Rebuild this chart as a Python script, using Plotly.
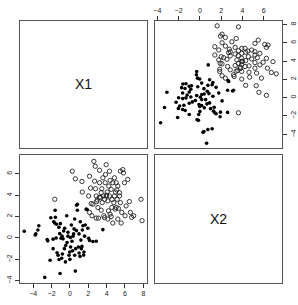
import plotly.graph_objects as go

# Group 1 (filled points)
x1_filled = [-4.98, -3.71, -3.49, -3.39, -3.78, -2.74, -2.48, -2.41, -2.16, -2.08, -1.83, -1.83,
             -1.76, -1.61, -1.58, -1.65, -1.47, -1.40, -1.29, -1.18, -1.11, -1.07, -1.04, -0.96,
             -0.86, -0.82, -0.75, -0.68, -0.57, -0.49, -0.46, -0.35, -0.31, -0.21, -0.21, -0.10,
             -0.02, 0.05, 0.08, 0.16, 0.23, 0.34, 0.45, 0.52, 0.52, 0.59, 0.63, 0.70, 0.73, 0.81,
             0.81, 0.92, 0.99, 1.10, 1.13, 1.24, 1.31, 1.35, 1.42, 1.53, 1.60, 1.67, 1.78, 1.89,
             1.96, 2.04, 2.14, 2.51, 2.87, 3.59,
             -1.20, -0.60, 0.30, 1.00, -0.90, 0.40, 1.20, -1.50, 0.00, 1.50]
x2_filled = [0.63, 0.38, 0.75, 1.15, 0.29, -3.69, -0.14, -0.27, -2.09, 1.90, -0.11, -1.00,
             1.52, 2.60, 1.93, 1.40, 1.28, -1.38, -1.62, -2.02, 0.41, -3.32, 1.34, -0.02,
             0.17, -1.50, -0.08, 0.66, 0.91, -2.24, -0.70, 2.08, -0.42, 0.54, 0.17, -1.62,
             -1.31, 0.04, -0.85, 1.22, -0.30, 0.17, 0.85, 1.77, -1.62, -3.10, -1.00, 0.69, 3.07, 3.16,
             2.60, -0.85, 0.38, -1.72, 1.52, -1.00, -0.79, 0.75, 1.15, -1.31, 0.17, 1.22, 2.70, 2.64,
             0.91, -0.02, -0.23, -0.33, -0.30, 0.78,
             1.00, -1.00, -1.20, -1.40, -1.90, 0.40, -0.20, 0.00, -2.00, -1.60]

# Group 2 (open circles)
x1_open = [-1.65, 0.26, 0.59, 1.31, 1.35, 2.14, 2.25, 2.04, 2.14, 2.32, 2.40, 2.51, 2.61, 2.69,
           2.76, 2.79, 2.87, 2.87, 2.98, 3.05, 3.12, 3.23, 3.23, 3.34, 3.41, 3.48, 3.52, 3.59,
           3.66, 3.70, 3.77, 3.84, 3.88, 3.95, 3.95, 4.06, 4.13, 4.13, 4.20, 4.24, 4.31, 4.31,
           4.38, 4.38, 4.49, 4.57, 4.67, 4.67, 4.78, 4.85, 4.85, 4.93, 4.96, 5.04, 5.14, 5.22,
           5.22, 5.29, 5.40, 5.50, 5.50, 5.58, 5.65, 5.76, 5.83, 5.94, 6.01, 6.12, 6.30, 6.48,
           6.59, 6.73, 6.95, 7.75, 7.86,
           5.40, 5.04, 3.41, 3.77, 4.49, 3.20, 4.00, 2.90, 4.60, 5.10]
x2_open = [3.62, 6.25, 5.54, 5.29, 4.30, 5.78, 4.67, 3.93, 2.39, 3.22, 2.08, 3.16, 7.17, 5.32,
           6.71, 4.61, 3.93, 1.86, 3.56, 2.85, 1.86, 6.34, 5.17, 3.78, 4.24, 4.61, 3.31, 5.63,
           3.93, 2.08, 3.62, 5.17, 5.94, 3.93, 6.86, 4.30, 3.47, 1.77, 2.54, 4.86, 6.25, 3.93,
           5.39, 2.23, 4.55, 2.85, 5.17, 1.40, 3.31, 3.93, 5.63, 2.70, 4.30, 5.17, 3.62, 4.86,
           1.77, 2.76, 4.24, 6.25, 3.31, 1.40, 2.39, 6.40, 6.09, 5.17, 2.08, 3.00, 5.48, 3.41,
           2.39, 1.93, 2.08, 3.62, 1.62,
           3.93, 2.85, 2.60, 1.90, 2.00, 3.80, 4.00, 3.40, 3.60, 4.50]

var_names = ["X1", "X2"]
x1_ticks = [-4, -2, 0, 2, 4, 6, 8]
x2_ticks = [-4, -2, 0, 2, 4, 6]

x1_range = [-5.45, 8.4]
x2_range = [-4.22, 7.72]

W, H = 298, 305
col_dom = [[18 / W, 146 / W], [154 / W, 282 / W]]
row_dom = [[1 - 148 / H, 1 - 21 / H], [1 - 284 / H, 1 - 156 / H]]

fig = go.Figure()

filled_m = dict(symbol="circle", size=3.6, color="black")
open_m = dict(symbol="circle-open", size=4.3, color="#222222", line=dict(width=0.9, color="#222222"))

# bottom-left: x = X1, y = X2 (axes x3/y3)
fig.add_trace(go.Scatter(x=x1_filled, y=x2_filled, mode="markers", marker=filled_m,
                         xaxis="x3", yaxis="y3", showlegend=False, hoverinfo="skip"))
fig.add_trace(go.Scatter(x=x1_open, y=x2_open, mode="markers", marker=open_m,
                         xaxis="x3", yaxis="y3", showlegend=False, hoverinfo="skip"))
# top-right: x = X2, y = X1 (axes x2/y2)
fig.add_trace(go.Scatter(x=x2_filled, y=x1_filled, mode="markers", marker=filled_m,
                         xaxis="x2", yaxis="y2", showlegend=False, hoverinfo="skip"))
fig.add_trace(go.Scatter(x=x2_open, y=x1_open, mode="markers", marker=open_m,
                         xaxis="x2", yaxis="y2", showlegend=False, hoverinfo="skip"))

frame = dict(showline=True, linecolor="#555555", linewidth=1, mirror=True,
             showgrid=False, zeroline=False)
tickstyle = dict(ticks="outside", ticklen=4, tickcolor="#333333", tickwidth=1,
                 tickfont=dict(family="Liberation Sans, Arial, sans-serif", size=7, color="#222222"))
empty = dict(showticklabels=False, ticks="", range=[0, 1])

fig.update_layout(
    width=W, height=H, margin=dict(l=0, r=0, t=0, b=0),
    paper_bgcolor="white", plot_bgcolor="white",
    # top-left diagonal (X1)
    xaxis=dict(domain=col_dom[0], anchor="y", **frame, **empty),
    yaxis=dict(domain=row_dom[0], anchor="x", **frame, **empty),
    # top-right scatter
    xaxis2=dict(domain=col_dom[1], anchor="y2", side="top", range=x2_range,
                tickvals=x2_ticks, **frame, **tickstyle),
    yaxis2=dict(domain=row_dom[0], anchor="x2", side="right", range=x1_range,
                tickvals=x1_ticks, tickangle=-90, **frame, **tickstyle),
    # bottom-left scatter
    xaxis3=dict(domain=col_dom[0], anchor="y3", range=x1_range,
                tickvals=x1_ticks, **frame, **tickstyle),
    yaxis3=dict(domain=row_dom[1], anchor="x3", range=x2_range,
                tickvals=x2_ticks, tickangle=-90, **frame, **tickstyle),
    # bottom-right diagonal (X2)
    xaxis4=dict(domain=col_dom[1], anchor="y4", **frame, **empty),
    yaxis4=dict(domain=row_dom[1], anchor="x4", **frame, **empty),
)

fig.add_annotation(x=0.5, y=0.5, xref="x", yref="y", text=var_names[0], showarrow=False,
                   font=dict(family="Liberation Sans, Arial, sans-serif", size=14, color="#111111"))
fig.add_annotation(x=0.5, y=0.5, xref="x4", yref="y4", text=var_names[1], showarrow=False,
                   font=dict(family="Liberation Sans, Arial, sans-serif", size=14, color="#111111"))

fig.write_html("out.html")
